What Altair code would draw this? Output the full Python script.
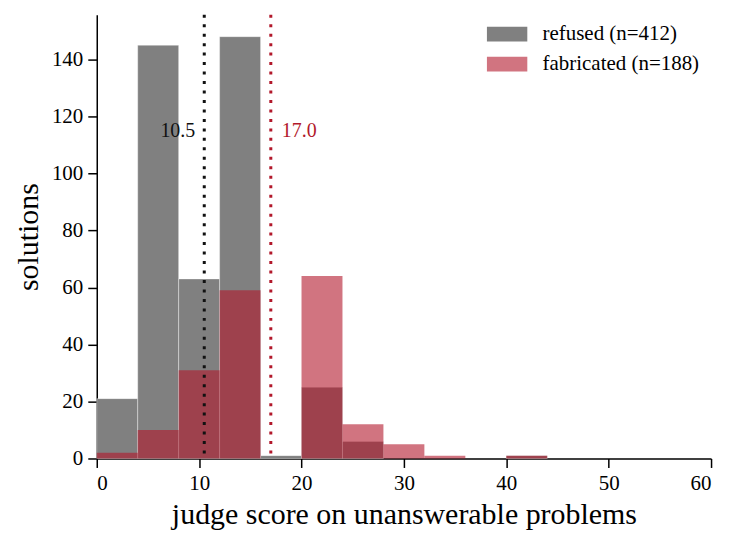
import altair as alt
import pandas as pd

# histogram bins (width 4) and counts
bin_starts = [0, 4, 8, 12, 16, 20, 24, 28, 32, 36, 40]
refused_counts = [21, 145, 63, 148, 1, 25, 6, 0, 0, 0, 1]
fabricated_counts = [2, 10, 31, 59, 0, 64, 12, 5, 1, 0, 1]
medians = [10.5, 17.0]
median_labels = ["10.5", "17.0"]
series = ["refused (n=412)", "fabricated (n=188)"]

FONT = "Liberation Serif"
RED = "#b2182b"

rows = []
for s, counts in zip(series, [refused_counts, fabricated_counts]):
    for b, c in zip(bin_starts, counts):
        if c > 0:
            rows.append({"series": s, "start": b, "end": b + 4, "count": c})
hist = pd.DataFrame(rows)

x_scale = alt.Scale(domain=[0, 60], nice=False)
y_scale = alt.Scale(domain=[0, 155.7], nice=False)
# legend swatch for fabricated is the red at 0.6 alpha over white
color = alt.Color("series:N",
                  scale=alt.Scale(domain=series, range=["#808080", "#d17480"]),
                  legend=alt.Legend(title=None, orient="none", legendX=398, legendY=6,
                                    labelFont=FONT, labelFontSize=21, labelColor="black",
                                    symbolType="M-1.5,-0.55H1.5V0.55H-1.5Z", symbolSize=729,
                                    symbolStrokeWidth=0, rowPadding=6,
                                    labelOffset=22, padding=0))

refused = alt.Chart(hist[hist.series == series[0]]).mark_rect(
    stroke="white", strokeWidth=0.6, strokeOpacity=0.6).encode(
    x=alt.X("start:Q", scale=x_scale,
            axis=alt.Axis(values=[0, 10, 20, 30, 40, 50, 60], title="judge score on unanswerable problems")),
    x2="end:Q",
    y=alt.Y("count:Q", scale=y_scale,
            axis=alt.Axis(values=[0, 20, 40, 60, 80, 100, 120, 140], title="solutions")),
    y2=alt.datum(0),
    color=color,
)

fabricated = alt.Chart(hist[hist.series == series[1]]).mark_rect(opacity=0.6, color=RED).encode(
    x="start:Q", x2="end:Q", y="count:Q", y2=alt.datum(0),
)

med = pd.DataFrame({"x": medians, "label": median_labels, "c": ["#111111", RED]})
lines = alt.Chart(med).mark_rule(strokeWidth=3, strokeDash=[3, 6.5]).encode(
    x="x:Q", color=alt.Color("c:N", scale=None),
)
txt_left = alt.Chart(med.iloc[[0]]).mark_text(
    align="right", dx=-9, font=FONT, fontSize=20).encode(
    x="x:Q", y=alt.datum(115), text="label:N", color=alt.Color("c:N", scale=None))
txt_right = alt.Chart(med.iloc[[1]]).mark_text(
    align="left", dx=11, font=FONT, fontSize=20).encode(
    x="x:Q", y=alt.datum(115), text="label:N", color=alt.Color("c:N", scale=None))

chart = alt.layer(refused, fabricated, lines, txt_left, txt_right).properties(
    width=616, height=445, padding={"left": 5, "top": 4, "right": 18, "bottom": 8}
).configure_view(stroke=None).configure_axis(
    labelFont=FONT, titleFont=FONT, labelFontSize=21, titleFontSize=30,
    titleFontWeight="normal", labelColor="black", titleColor="black",
    domainColor="black", domainWidth=1.5, tickColor="black", tickWidth=1.5,
    tickSize=9, grid=False, labelPadding=5,
).configure_axisX(titlePadding=6).configure_axisY(titlePadding=8)

chart.save("out.html", embed_options={"renderer": "svg", "actions": False})
